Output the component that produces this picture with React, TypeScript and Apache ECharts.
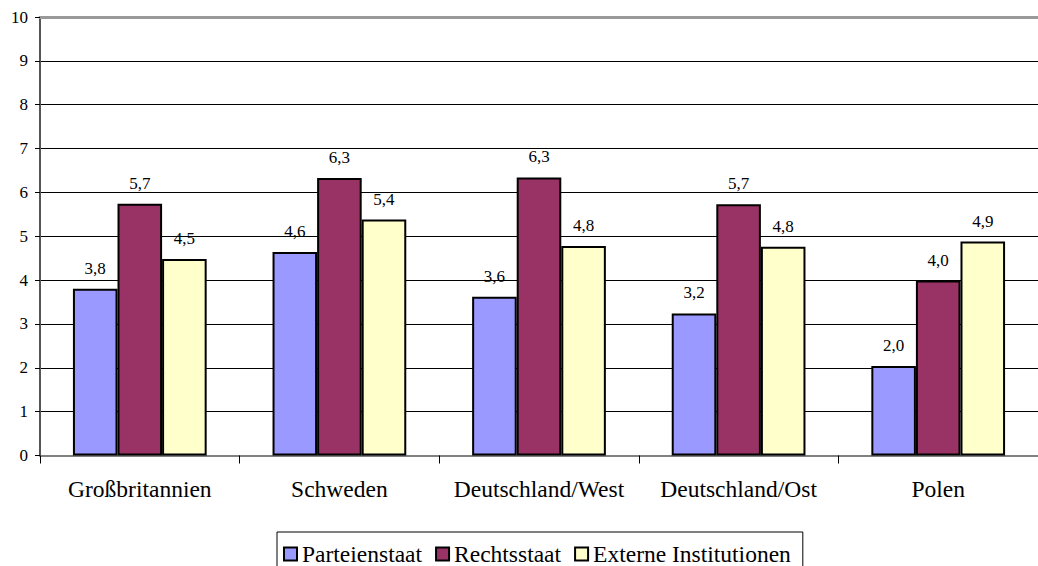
import React, { useEffect, useRef } from "react";
import * as echarts from "echarts";

const categories = ["Großbritannien", "Schweden", "Deutschland/West", "Deutschland/Ost", "Polen"];
const seriesNames = ["Parteienstaat", "Rechtsstaat", "Externe Institutionen"];
const parteienstaat = [3.8, 4.64, 3.62, 3.24, 2.04];
const rechtsstaat = [5.74, 6.33, 6.34, 5.73, 3.99];
const externe = [4.48, 5.38, 4.78, 4.76, 4.88];
const colors = ["#9999FF", "#993366", "#FFFFCC"];
const yTicks = [0, 10, 1];

const FONT = "Liberation Serif";

export default function App() {
  const ref = useRef<HTMLDivElement>(null);
  useEffect(() => {
    if (!ref.current) return;
    const chart = echarts.init(ref.current, undefined, { renderer: "svg" });
    const values = [parteienstaat, rechtsstaat, externe];
    chart.setOption({
      animation: false,
      textStyle: { fontFamily: FONT, color: "#000" },
      grid: { left: 40, top: 17, width: 1007.5, height: 438.5, containLabel: false },
      legend: {
        left: 277,
        top: 532,
        orient: "horizontal",
        icon: "rect",
        itemWidth: 13,
        itemHeight: 13,
        itemGap: 13,
        borderColor: "#000",
        borderWidth: 1,
        padding: [10, 12, 10, 6],
        textStyle: { fontFamily: FONT, fontSize: 23.5, color: "#000" },
        data: seriesNames,
      },
      xAxis: [
        {
          type: "category",
          data: categories,
          boundaryGap: true,
          axisLine: { show: true, lineStyle: { color: "#808080", width: 2 } },
          axisTick: { show: true, length: 8, lineStyle: { color: "#000", width: 1 } },
          axisLabel: { fontFamily: FONT, fontSize: 23.5, color: "#000", margin: 21, interval: 0 },
          splitLine: { show: false },
        },
        {
          type: "category",
          data: categories,
          position: "top",
          axisLine: { show: true, lineStyle: { color: "#999999", width: 3 } },
          axisTick: { show: false },
          axisLabel: { show: false },
          splitLine: { show: false },
        },
      ],
      yAxis: {
        type: "value",
        min: yTicks[0],
        max: yTicks[1],
        interval: yTicks[2],
        axisLine: { show: true, lineStyle: { color: "#555", width: 2 } },
        axisTick: { show: true, length: 5, lineStyle: { color: "#000" } },
        axisLabel: { fontFamily: FONT, fontSize: 17, color: "#000", margin: 12 },
        splitLine: { show: true, lineStyle: { color: "#000", width: 1 } },
      },
      series: seriesNames.map((name, i) => ({
        name,
        type: "bar",
        data: values[i],
        barGap: "0%",
        barCategoryGap: "33%",
        itemStyle: { color: colors[i], borderColor: "#000", borderWidth: 2 },
        label: {
          show: true,
          position: "top",
          distance: 12,
          fontFamily: FONT,
          fontSize: 17,
          color: "#000",
          formatter: (p: any) => Number(p.value).toFixed(1).replace(".", ","),
        },
      })),
    });
    return () => chart.dispose();
  }, []);
  return (
    <div
      ref={ref}
      style={{ position: "absolute", left: 0, top: 0, width: 1038, height: 566, background: "#fff" }}
    />
  );
}
